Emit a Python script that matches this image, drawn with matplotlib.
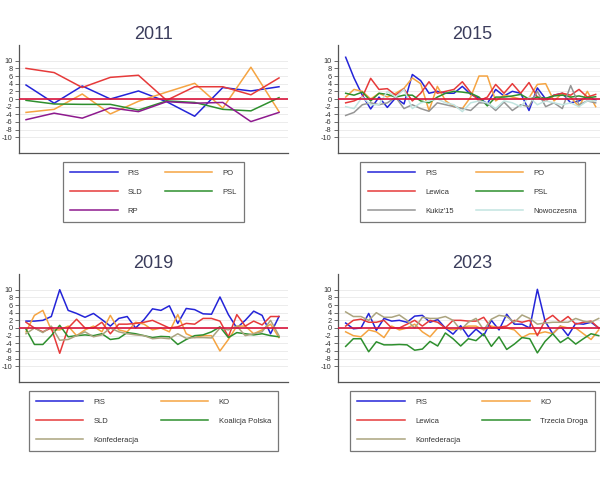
import matplotlib
matplotlib.use("Agg")
import matplotlib.pyplot as plt

plt.rcParams['font.family'] = ['Liberation Sans', 'DejaVu Sans']

# ---------------- data ----------------
years = ["2011", "2015", "2019", "2023"]

labels_2011 = ["PiS", "PO", "SLD", "PSL", "RP"]
pis_2011 = [3.65, -1.1, 3.4, 0.0, 2.1, -0.7, -4.5, 3.0, 2.1, 3.2]
po_2011 = [-3.5, -2.7, 1.3, -3.9, -0.6, 1.8, 4.1, -2.4, 8.3, -3.3]
sld_2011 = [8.0, 6.9, 3.0, 5.65, 6.2, -0.35, 3.2, 3.2, 1.1, 5.5]
psl_2011 = [-0.35, -1.3, -1.4, -1.4, -2.9, -0.5, -0.9, -2.7, -3.1, 0.35]
rp_2011 = [-5.4, -3.7, -5.0, -2.3, -3.3, -0.7, -1.1, -0.9, -5.9, -3.5]

labels_2015 = ["PiS", "PO", "Lewica", "PSL", "Kukiz'15", "Nowoczesna"]
pis_2015 = [10.9, 5.5, 1.0, -2.6, 0.5, -2.2, 0.3, -1.3, 6.4, 4.8, 1.5, 2.0, 1.5, 1.5, 3.3, 1.2,
            0.2, -1.2, 2.5, 0.8, 2.0, 1.5, -3.0, 2.9, 0.0, 1.0, 1.5, -1.0, -0.5, 0.5, -0.3]
po_2015 = [0.5, 2.5, 2.0, 0.0, 1.5, 0.5, 1.5, 2.8, 5.5, 4.0, -3.0, 3.3, -0.5, -2.0, -2.5, 0.5,
           6.0, 6.0, -0.5, 1.0, 0.5, 0.0, 0.3, 3.8, 4.0, -0.5, 1.5, 0.5, -2.0, 2.0, -2.0]
lewica_2015 = [-1.0, -0.5, 0.5, 5.4, 2.5, 2.7, 1.0, 2.6, -0.5, 1.5, 4.5, 1.5, 2.0, 2.5, 4.5, 1.7,
               -0.5, 0.5, 3.8, 1.5, 4.0, 1.5, 4.3, 0.5, -0.5, 1.0, 1.5, 1.0, 2.5, 0.5, 1.2]
psl_2015 = [1.5, 1.0, 1.8, -0.5, 1.5, 1.2, 0.5, 1.0, 1.0, -0.5, -1.0, 0.5, 1.5, 2.0, 1.8, 1.5,
            0.5, -1.8, 0.5, 0.5, 0.8, 1.2, 0.0, 0.5, 0.2, 0.8, 1.0, 0.5, 0.8, 0.3, 0.6]
kukiz_2015 = [-4.3, -3.5, -1.5, -1.0, -1.5, -1.0, 0.5, -2.5, -1.5, -2.5, -3.2, -1.0, -1.5, -2.0,
              -2.5, -3.0, -1.0, -1.0, -3.0, -0.8, -3.0, -1.5, -2.0, 2.0, -2.0, -1.0, -2.5, 3.5,
              -1.5, -0.5, -1.0]
nowo_2015 = [-2.0, -2.5, 0.5, -1.5, -1.5, 2.0, 0.5, 2.5, -2.5, -1.0, -0.5, 0.0, -1.0, -1.5, -3.3,
             -1.0, -0.5, -1.0, -2.5, -0.5, -1.0, -2.0, 0.5, -1.5, -0.5, -1.0, -1.5, -1.0, -2.0,
             -0.5, -0.5]

labels_2019 = ["PiS", "KO", "SLD", "Koalicja Polska", "Konfederacja"]
pis_2019 = [1.8, 1.8, 2.0, 3.0, 10.0, 4.6, 3.8, 2.8, 3.8, 2.2, 0.5, 2.5, 3.0, 0.0, 2.2, 5.0,
            4.6, 5.8, 1.2, 5.1, 4.8, 3.7, 3.6, 8.1, 3.5, 0.0, 2.0, 4.4, 3.3, -1.5, 3.0]
ko_2019 = [-1.0, 3.3, 4.6, -0.5, -0.5, 0.5, -2.0, -0.5, 0.5, -1.0, 3.3, -0.5, -1.0, 1.5, 1.0,
           -0.5, 0.0, -1.0, 3.5, -1.5, -2.5, -2.0, -2.0, -6.0, -3.0, 0.5, 0.5, -1.5, -0.5, 1.0,
           -2.5]
sld_2019 = [1.5, 0.0, -1.0, 0.0, -6.6, 0.0, 2.3, 0.0, 0.0, 1.5, -1.5, 1.0, 1.0, 1.2, 1.5, 2.0,
            1.0, 0.0, 0.3, 1.2, 1.0, 2.5, 2.5, 1.8, -2.3, 3.5, 0.5, 1.8, 0.8, 3.0, 3.0]
kp_2019 = [-0.3, -4.3, -4.3, -2.0, 0.7, -2.3, -2.0, -1.8, -2.0, -1.5, -3.0, -2.7, -1.2, -1.5,
           -2.0, -2.5, -2.2, -2.3, -4.3, -3.0, -2.0, -1.8, -1.0, 0.3, -2.5, -1.2, -1.5, -1.8,
           -1.5, -2.0, -2.3]
konf_2019 = [-1.5, 0.0, -1.2, 0.5, -3.2, -3.0, -2.0, -1.0, -2.3, -1.8, 0.0, -1.0, -1.5, -1.8,
             -2.0, -2.8, -2.6, -2.8, -1.5, -2.7, -2.5, -2.5, -2.6, 0.0, -0.5, 0.5, -2.0, -1.5,
             -1.0, 2.0, -2.0]

labels_2023 = ["PiS", "KO", "Lewica", "Trzecia Droga", "Konfederacja"]
pis_2023 = [1.3, -0.2, 0.0, 3.8, -0.6, 2.5, 1.8, 2.0, 1.5, 3.1, 3.3, 1.5, 2.2, 0.0, -1.6, 0.6,
            -2.3, -0.3, -2.0, 2.0, -0.5, 3.6, 1.0, 1.0, 0.0, 10.1, 1.8, -1.5, 0.5, -2.0, 1.2,
            1.0, 1.5, 0.0]
ko_2023 = [-1.0, -2.0, -2.3, -0.5, -1.0, -2.5, 0.5, -0.5, 0.0, 1.0, -1.0, -2.3, 0.0, 0.0, -0.5,
           0.0, 0.5, 0.5, -0.5, 0.5, 0.0, 0.0, -0.5, -2.5, -1.5, -1.5, -1.0, -1.5, 0.5, 0.0,
           0.0, -1.5, -3.0, -0.5]
lewica_2023 = [0.5, 2.0, 2.3, 1.5, 1.5, 2.0, 0.0, 0.0, 1.0, 2.0, 0.5, 2.0, 1.5, 0.0, 2.0, 2.0,
               1.8, 1.8, 2.8, 0.0, 0.2, 0.5, 2.0, 1.5, 2.0, -2.0, 2.0, 3.3, 1.5, 3.0, 1.0, 1.5,
               1.8, 0.0]
td_2023 = [-4.8, -2.8, -2.8, -6.2, -3.6, -4.4, -4.4, -4.3, -4.4, -5.8, -5.5, -3.5, -4.7, -1.3,
           -2.8, -4.7, -2.8, -3.3, -1.5, -4.8, -2.3, -5.6, -4.2, -2.5, -2.8, -6.5, -3.5, -1.5,
           -3.8, -2.5, -4.2, -2.8, -1.5, -2.0]
konf_2023 = [4.2, 3.0, 3.0, 2.0, 4.0, 2.8, 2.8, 3.4, 2.0, 0.0, 2.8, 2.5, 2.5, 3.0, 2.0, -0.5,
             1.5, 2.5, -0.5, 2.3, 3.3, 3.0, 1.5, 3.4, 2.5, 1.0, 1.3, 1.5, 1.5, 1.5, 2.5, 1.8,
             1.5, 2.5]

yticks = [-10, -8, -6, -4, -2, 0, 2, 4, 6, 8, 10]

# ---------------- styling ----------------
C_BLUE = '#2424d8'
C_ORANGE = '#f5a442'
C_RED = '#e63a3a'
C_GREEN = '#2e8f2e'
C_PURPLE = '#8e1a8e'
C_GRAY = '#959595'
C_CYAN = '#c2e4e0'
C_OLIVE = '#aba47f'

W, H = 600, 480
fig = plt.figure(figsize=(6, 4.8), dpi=100)
fig.patch.set_facecolor('white')

def px_axes(x0, y0, x1, y1):
    return fig.add_axes([x0 / W, 1 - y1 / H, (x1 - x0) / W, (y1 - y0) / H])

panels = [
    (years[0], (19, 45, 288, 153), (-0.25, 9.32),
     [(pis_2011, C_BLUE), (po_2011, C_ORANGE), (sld_2011, C_RED), (psl_2011, C_GREEN), (rp_2011, C_PURPLE)],
     labels_2011),
    (years[1], (338, 45, 607, 153), (-0.92, 31.36),
     [(pis_2015, C_BLUE), (po_2015, C_ORANGE), (lewica_2015, C_RED), (psl_2015, C_GREEN),
      (kukiz_2015, C_GRAY), (nowo_2015, C_CYAN)],
     labels_2015),
    (years[2], (19, 274, 288, 382), (-0.83, 31.07),
     [(pis_2019, C_BLUE), (ko_2019, C_ORANGE), (sld_2019, C_RED), (kp_2019, C_GREEN), (konf_2019, C_OLIVE)],
     labels_2019),
    (years[3], (338, 274, 607, 382), (-1.0, 34.08),
     [(pis_2023, C_BLUE), (ko_2023, C_ORANGE), (lewica_2023, C_RED), (td_2023, C_GREEN), (konf_2023, C_OLIVE)],
     labels_2023),
]

for title, box, xlim, series, labels in panels:
    ax = px_axes(*box)
    for yv in yticks:
        ax.axhline(yv, color='#ececec', lw=0.7, zorder=0)
    handles = []
    for (vals, col), lab in zip(series, labels):
        h, = ax.plot(range(len(vals)), vals, color=col, lw=1.1, label=lab, zorder=2)
        handles.append(h)
    ax.axhline(0, color='#d8143c', lw=1.2, zorder=3)
    ax.set_xlim(*xlim)
    ax.set_ylim(-14.1, 14.1)
    ax.set_yticks(yticks)
    ax.set_yticklabels([str(v) for v in yticks])
    ax.set_xticks([])
    ax.tick_params(axis='y', labelsize=5.3, length=3, width=0.6, pad=1.5,
                   colors='#555555', labelcolor='#333333')
    for s in ['top', 'right']:
        ax.spines[s].set_visible(False)
    for s in ['left', 'bottom']:
        ax.spines[s].set_color('#555555')
        ax.spines[s].set_linewidth(0.9)
    ax.set_title(title, fontsize=13, color='#3b3d5c', pad=4)
    n = len(handles)
    order = list(range(0, n, 2)) + list(range(1, n, 2))
    leg = ax.legend([handles[i] for i in order], [labels[i] for i in order],
                    loc='upper center', bbox_to_anchor=(0.5, -0.083), ncol=2,
                    fontsize=5.5, frameon=True, fancybox=False, handlelength=6.2,
                    handletextpad=1.35, columnspacing=2.9, labelspacing=1.55,
                    borderpad=0.95, borderaxespad=0)
    leg.get_frame().set_edgecolor('#555555')
    leg.get_frame().set_linewidth(0.9)
    for t in leg.get_texts():
        t.set_color('#333333')

fig.savefig('out.png', dpi=100, facecolor='white')
